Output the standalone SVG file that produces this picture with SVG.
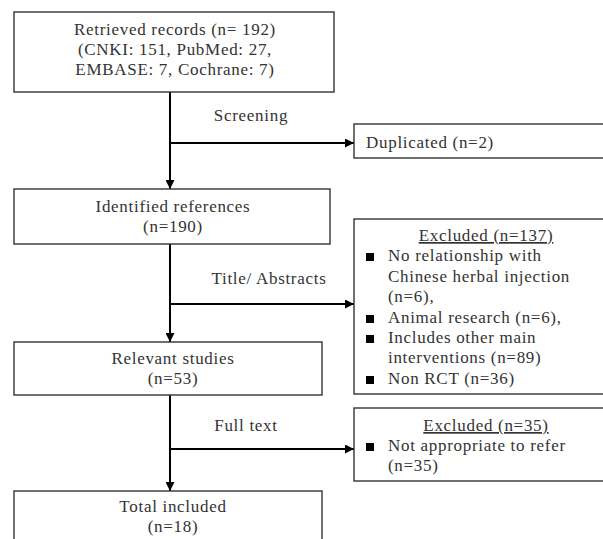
<svg xmlns="http://www.w3.org/2000/svg" width="603" height="539" viewBox="0 0 603 539">
<style>
  .box { fill: #fff; stroke: #333; stroke-width: 1.4; }
  .t { font-family: "Liberation Serif", "Times New Roman", serif; font-size: 17px; letter-spacing: 0.7px; fill: #333; }
  .c { text-anchor: middle; }
  .u { text-decoration: underline; }
  .ln { stroke: #000; stroke-width: 2; fill: none; }
  .bl { fill: #000; }
</style>
<defs>
  <marker id="ah" viewBox="0 0 10 10" refX="10" refY="5" markerWidth="4.5" markerHeight="4.5" orient="auto" markerUnits="strokeWidth">
    <path d="M0,0 L10,5 L0,10 z" fill="#000"/>
  </marker>
</defs>
<rect width="603" height="539" fill="#fff"/>

<g id="connectors">
  <line class="ln" x1="170" y1="92" x2="170" y2="189" marker-end="url(#ah)"/>
  <line class="ln" x1="170" y1="143" x2="354" y2="143" marker-end="url(#ah)"/>
  <line class="ln" x1="170" y1="244" x2="170" y2="342" marker-end="url(#ah)"/>
  <line class="ln" x1="170" y1="304" x2="354" y2="304" marker-end="url(#ah)"/>
  <line class="ln" x1="170" y1="395" x2="170" y2="491" marker-end="url(#ah)"/>
  <line class="ln" x1="170" y1="449" x2="354" y2="449" marker-end="url(#ah)"/>
  <text class="t c" x="251" y="121">Screening</text>
  <text class="t c" x="269" y="284">Title/ Abstracts</text>
  <text class="t c" x="246" y="431">Full text</text>
</g>

<g id="retrieved">
  <rect class="box" x="14" y="12" width="320" height="80"/>
  <text class="t c" x="175" y="35">Retrieved records (n= 192)</text>
  <text class="t c" x="175" y="55">(CNKI: 151, PubMed: 27,</text>
  <text class="t c" x="175" y="75">EMBASE: 7, Cochrane: 7)</text>
</g>

<g id="duplicated">
  <rect class="box" x="354" y="124" width="252" height="34"/>
  <text class="t" x="366" y="148">Duplicated (n=2)</text>
</g>

<g id="identified">
  <rect class="box" x="14" y="189" width="316" height="55"/>
  <text class="t c" x="173" y="212">Identified references</text>
  <text class="t c" x="173" y="232">(n=190)</text>
</g>

<g id="excluded1">
  <rect class="box" x="354" y="219" width="252" height="175"/>
  <text class="t c u" x="486" y="241">Excluded (n=137)</text>
  <rect class="bl" x="366" y="253" width="8" height="8"/>
  <text class="t" x="388" y="261">No relationship with</text>
  <text class="t" x="388" y="282">Chinese herbal injection</text>
  <text class="t" x="388" y="302">(n=6),</text>
  <rect class="bl" x="366" y="315" width="8" height="8"/>
  <text class="t" x="388" y="323">Animal research (n=6),</text>
  <rect class="bl" x="366" y="335" width="8" height="8"/>
  <text class="t" x="388" y="343">Includes other main</text>
  <text class="t" x="388" y="363">interventions (n=89)</text>
  <rect class="bl" x="366" y="376" width="8" height="8"/>
  <text class="t" x="388" y="384">Non RCT (n=36)</text>
</g>

<g id="relevant">
  <rect class="box" x="14" y="342" width="308" height="53"/>
  <text class="t c" x="173" y="364">Relevant studies</text>
  <text class="t c" x="173" y="384">(n=53)</text>
</g>

<g id="excluded2">
  <rect class="box" x="354" y="408" width="252" height="73"/>
  <text class="t c u" x="486" y="431">Excluded (n=35)</text>
  <rect class="bl" x="366" y="443" width="8" height="8"/>
  <text class="t" x="388" y="451">Not appropriate to refer</text>
  <text class="t" x="388" y="471">(n=35)</text>
</g>

<g id="total">
  <rect class="box" x="14" y="491" width="308" height="60"/>
  <text class="t c" x="173" y="512">Total included</text>
  <text class="t c" x="173" y="532">(n=18)</text>
</g>
</svg>
